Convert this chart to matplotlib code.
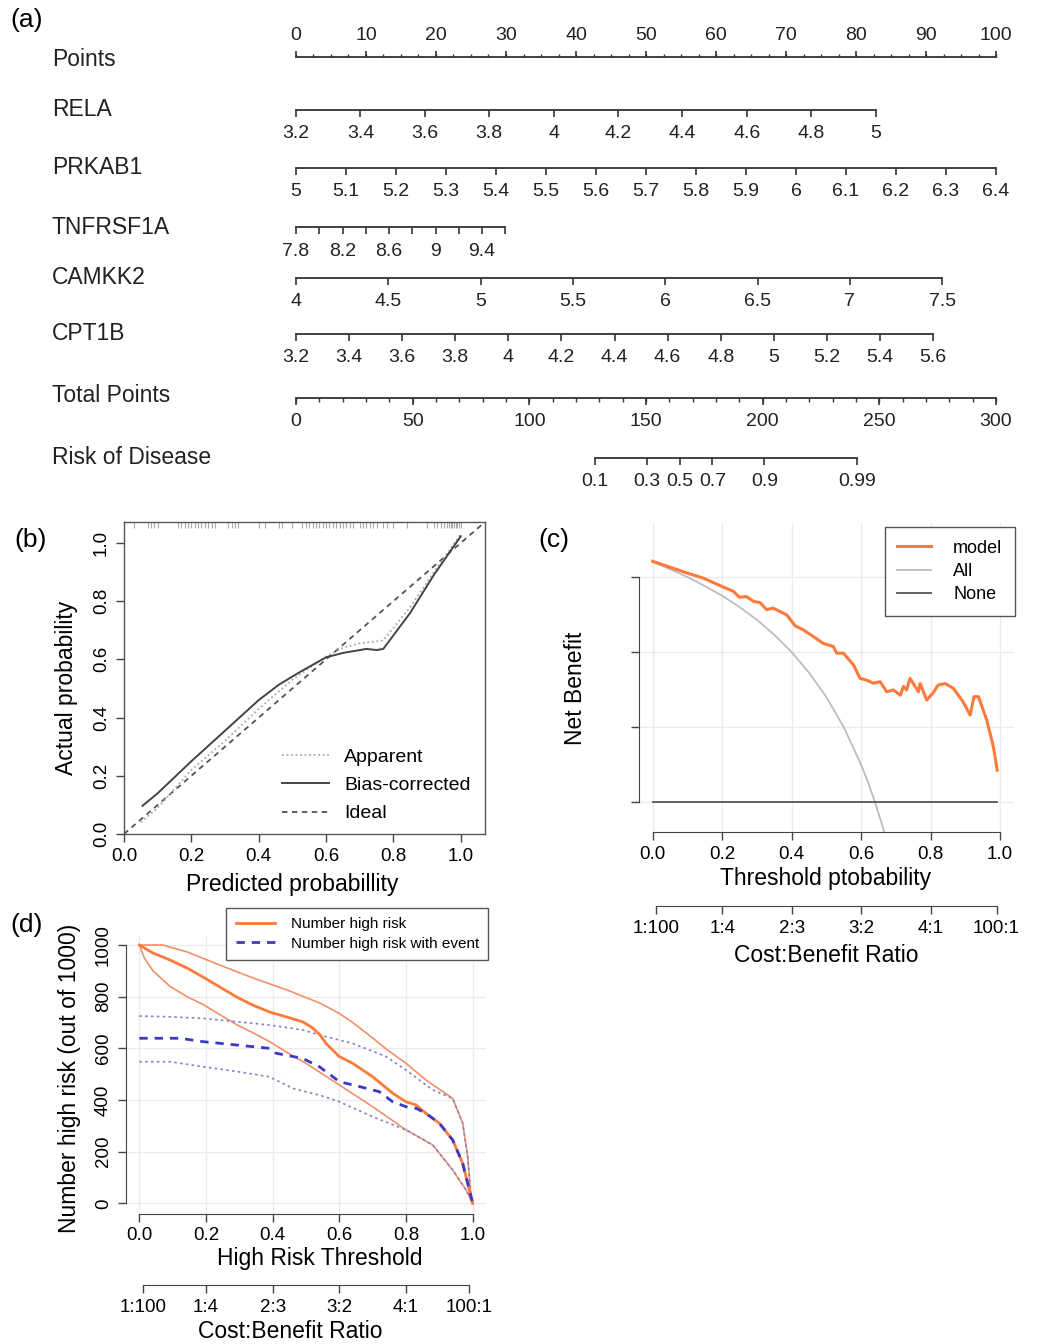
import matplotlib.pyplot as plt
import numpy as np

plt.rcParams['font.family'] = ['Liberation Sans', 'DejaVu Sans']

W, H = 1041, 1344

#%% data
# nomogram (a): tick values of each predictor and the points reached at its max value
points_major = [0, 10, 20, 30, 40, 50, 60, 70, 80, 90, 100]
points_minor = [2.5 * i for i in range(41)]

rela_vals = [3.2, 3.4, 3.6, 3.8, 4.0, 4.2, 4.4, 4.6, 4.8, 5.0]
rela_labels = ['3.2', '3.4', '3.6', '3.8', '4', '4.2', '4.4', '4.6', '4.8', '5']
rela_pmax = 82.8

prkab1_vals = [5.0, 5.1, 5.2, 5.3, 5.4, 5.5, 5.6, 5.7, 5.8, 5.9, 6.0, 6.1, 6.2, 6.3, 6.4]
prkab1_labels = ['5', '5.1', '5.2', '5.3', '5.4', '5.5', '5.6', '5.7', '5.8', '5.9',
                 '6', '6.1', '6.2', '6.3', '6.4']
prkab1_pmax = 100

tnf_vals = [7.8, 8.0, 8.2, 8.4, 8.6, 8.8, 9.0, 9.2, 9.4, 9.6]
tnf_labels = ['7.8', '', '8.2', '', '8.6', '', '9', '', '9.4', '']
tnf_pmax = 29.9

camkk2_vals = [4.0, 4.5, 5.0, 5.5, 6.0, 6.5, 7.0, 7.5]
camkk2_labels = ['4', '4.5', '5', '5.5', '6', '6.5', '7', '7.5']
camkk2_pmax = 92.3

cpt1b_vals = [3.2, 3.4, 3.6, 3.8, 4.0, 4.2, 4.4, 4.6, 4.8, 5.0, 5.2, 5.4, 5.6]
cpt1b_labels = ['3.2', '3.4', '3.6', '3.8', '4', '4.2', '4.4', '4.6', '4.8', '5',
                '5.2', '5.4', '5.6']
cpt1b_pmax = 91.0

total_major = [0, 50, 100, 150, 200, 250, 300]
total_minor = [10 * i for i in range(31)]
total_max = 300

risk_vals = [0.1, 0.3, 0.5, 0.7, 0.9, 0.99]
risk_labels = ['0.1', '0.3', '0.5', '0.7', '0.9', '0.99']
risk_intercept = -9.95
risk_slope = 0.0605

# calibration (b)
app_x = [0.05, 0.1, 0.2, 0.3, 0.4, 0.5, 0.6, 0.65, 0.7, 0.77, 0.85, 0.92, 1.0]
app_y = [0.04, 0.09, 0.22, 0.32, 0.43, 0.53, 0.61, 0.64, 0.655, 0.665, 0.78, 0.9, 1.03]
bc_x = [0.055, 0.1, 0.2, 0.3, 0.4, 0.46, 0.52, 0.6, 0.65, 0.72, 0.75, 0.77, 0.85, 0.92, 1.0]
bc_y = [0.097, 0.14, 0.25, 0.355, 0.46, 0.513, 0.555, 0.607, 0.622, 0.636, 0.632, 0.636,
        0.76, 0.89, 1.023]
rug_x = [0.03, 0.07, 0.08, 0.09, 0.1, 0.16, 0.17, 0.18, 0.19, 0.2, 0.21, 0.22, 0.23, 0.24,
         0.25, 0.26, 0.27, 0.31, 0.32, 0.33, 0.34, 0.4, 0.42, 0.46, 0.47, 0.5, 0.53, 0.54,
         0.55, 0.56, 0.57, 0.58, 0.59, 0.6, 0.61, 0.62, 0.63, 0.64, 0.65, 0.66, 0.67, 0.68,
         0.7, 0.71, 0.72, 0.73, 0.74, 0.75, 0.77, 0.78, 0.8, 0.84, 0.9, 0.92, 0.93, 0.94,
         0.95, 0.96, 0.965, 0.97, 0.975, 0.98, 0.985, 0.99, 0.995, 1.0]

# decision curve (c)
model_x = [0.0, 0.098, 0.146, 0.194, 0.232, 0.25, 0.27, 0.29, 0.309, 0.328, 0.347, 0.386,
           0.41, 0.434, 0.463, 0.491, 0.52, 0.53, 0.549, 0.578, 0.597, 0.616, 0.635, 0.655,
           0.674, 0.693, 0.713, 0.722, 0.731, 0.741, 0.765, 0.77, 0.789, 0.808, 0.822,
           0.842, 0.866, 0.894, 0.914, 0.925, 0.938, 0.962, 0.981, 0.992]
model_nb = [0.642, 0.611, 0.597, 0.577, 0.562, 0.546, 0.548, 0.535, 0.532, 0.513, 0.517,
            0.499, 0.47, 0.459, 0.441, 0.423, 0.415, 0.397, 0.397, 0.366, 0.33, 0.325,
            0.317, 0.321, 0.294, 0.299, 0.285, 0.308, 0.299, 0.33, 0.294, 0.316, 0.272,
            0.292, 0.312, 0.316, 0.303, 0.267, 0.232, 0.281, 0.281, 0.218, 0.147, 0.085]
all_x = [0.0, 0.05, 0.1, 0.15, 0.2, 0.25, 0.3, 0.35, 0.4, 0.45, 0.5, 0.55, 0.6, 0.62,
         0.64, 0.66, 0.67]
all_nb = [0.64, 0.621, 0.6, 0.576, 0.55, 0.52, 0.486, 0.446, 0.4, 0.345, 0.28, 0.2, 0.1,
          0.053, 0.0, -0.059, -0.09]
none_x = [0.0, 0.99]
none_nb = [0.0, 0.0]

cb_ticks = [0.01, 0.2, 0.4, 0.6, 0.8, 0.99]
cb_labels = ['1:100', '1:4', '2:3', '3:2', '4:1', '100:1']

# clinical impact (d)
hr_x = [0.0, 0.041, 0.092, 0.143, 0.191, 0.242, 0.293, 0.341, 0.392, 0.443, 0.491, 0.52,
        0.542, 0.56, 0.6, 0.64, 0.7, 0.76, 0.8, 0.83, 0.86, 0.9, 0.94, 0.97, 0.995, 1.0]
hr_y = [1000, 969, 942, 911, 876, 837, 798, 767, 740, 721, 702, 679, 652, 619, 568, 542,
        490, 426, 393, 381, 348, 310, 245, 155, 26, 0]
hr_hi_x = [0.0, 0.07, 0.142, 0.242, 0.342, 0.443, 0.542, 0.6, 0.64, 0.7, 0.74, 0.8, 0.86,
           0.94, 0.97, 0.985, 0.995, 1.0]
hr_hi_y = [1000, 1000, 974, 922, 872, 826, 775, 735, 700, 640, 598, 542, 477, 406, 310,
           181, 26, 0]
hr_lo_x = [0.0, 0.015, 0.041, 0.092, 0.143, 0.191, 0.242, 0.293, 0.341, 0.392, 0.443, 0.5,
           0.6, 0.7, 0.8, 0.88, 0.94, 0.98, 1.0]
hr_lo_y = [1000, 950, 900, 840, 800, 770, 730, 691, 660, 625, 584, 542, 458, 374, 284,
           226, 129, 52, 0]
ev_x = [0.0, 0.122, 0.19, 0.29, 0.39, 0.41, 0.49, 0.54, 0.6, 0.66, 0.72, 0.76, 0.8, 0.83,
        0.86, 0.9, 0.94, 0.97, 0.995, 1.0]
ev_y = [639, 639, 626, 613, 600, 581, 561, 529, 471, 452, 432, 393, 374, 368, 348, 310,
        245, 155, 26, 0]
ev_hi_x = [0.0, 0.092, 0.191, 0.293, 0.392, 0.491, 0.542, 0.64, 0.74, 0.8, 0.88, 0.94,
           0.97, 0.985, 0.995, 1.0]
ev_hi_y = [725, 722, 716, 703, 690, 671, 651, 619, 568, 516, 439, 406, 310, 181, 26, 0]
ev_lo_x = [0.0, 0.092, 0.19, 0.293, 0.39, 0.46, 0.54, 0.6, 0.7, 0.8, 0.88, 0.94, 0.98, 1.0]
ev_lo_y = [548, 548, 529, 510, 490, 445, 419, 393, 335, 284, 226, 129, 52, 0]


def rect(x0, y0, x1, y1):
    return [x0 / W, 1 - y1 / H, (x1 - x0) / W, (y1 - y0) / H]


fig = plt.figure(figsize=(W / 100, H / 100), dpi=100)


def ftext(x, y, s, **kw):
    fig.text(x / W, 1 - y / H, s, **kw)


dark = '#333333'
orange = '#FF7A3A'

#%% (a) nomogram
axa = fig.add_axes([0, 1 - 500 / H, 1, 500 / H])
axa.set_xlim(-296 / 7, (W - 296) / 7)
axa.set_ylim(500, 0)
axa.axis('off')
lab_x = (52 - 296) / 7


def nomo_row(y, name, vals, labels, pmax):
    vmin, vmax = vals[0], vals[-1]
    pts = [(v - vmin) / (vmax - vmin) * pmax for v in vals]
    axa.plot([pts[0], pts[-1]], [y, y], color=dark, lw=1.3)
    axa.vlines(pts, y, y + 7, color=dark, lw=1.2)
    for p, l in zip(pts, labels):
        axa.text(p, y + 24, l, ha='center', va='center', fontsize=14, color='#222')
    axa.text(lab_x, y, name, ha='left', va='center', fontsize=16.5, color='#222')


# Points
axa.plot([0, 100], [57, 57], color=dark, lw=1.3)
axa.vlines(points_minor, 57, 53.5, color=dark, lw=1)
axa.vlines(points_major, 57, 50.5, color=dark, lw=1.2)
for p in points_major:
    axa.text(p, 36, str(p), ha='center', va='center', fontsize=14, color='#222')
axa.text(lab_x, 60, 'Points', ha='left', va='center', fontsize=16.5, color='#222')

nomo_row(110, 'RELA', rela_vals, rela_labels, rela_pmax)
nomo_row(168, 'PRKAB1', prkab1_vals, prkab1_labels, prkab1_pmax)
nomo_row(227, 'TNFRSF1A', tnf_vals, tnf_labels, tnf_pmax)
nomo_row(278, 'CAMKK2', camkk2_vals, camkk2_labels, camkk2_pmax)
nomo_row(334, 'CPT1B', cpt1b_vals, cpt1b_labels, cpt1b_pmax)

# Total points
tp_scale = 100 / total_max
axa.plot([0, 100], [398, 398], color=dark, lw=1.3)
axa.vlines([t * tp_scale for t in total_minor], 398, 402, color=dark, lw=1)
axa.vlines([t * tp_scale for t in total_major], 398, 405, color=dark, lw=1.2)
for t in total_major:
    axa.text(t * tp_scale, 421, str(t), ha='center', va='center', fontsize=14, color='#222')
axa.text(lab_x, 396, 'Total Points', ha='left', va='center', fontsize=16.5, color='#222')

# Risk of disease
risk_tp = [(np.log(p / (1 - p)) - risk_intercept) / risk_slope for p in risk_vals]
risk_pts = [t * tp_scale for t in risk_tp]
axa.plot([risk_pts[0], risk_pts[-1]], [458, 458], color=dark, lw=1.3)
axa.vlines(risk_pts, 458, 465, color=dark, lw=1.2)
for p, l in zip(risk_pts, risk_labels):
    axa.text(p, 482, l, ha='center', va='center', fontsize=14, color='#222')
axa.text(lab_x, 458, 'Risk of Disease', ha='left', va='center', fontsize=16.5, color='#222')

ftext(10, 20, '(a)', fontsize=19, va='center', ha='left')

#%% (b) calibration
axb = fig.add_axes(rect(124, 522, 485, 834))
axb.set_xlim(0, 1.072)
axb.set_ylim(0, 1.072)
axb.plot([0, 1.1], [0, 1.1], color='#555555', lw=1.3, ls=(0, (3, 2.5)), label='Ideal')
axb.plot(app_x, app_y, color='#AAAAAA', lw=1.3, ls=(0, (1, 1.5)), label='Apparent')
axb.plot(bc_x, bc_y, color='#444444', lw=1.4, label='Bias-corrected')
axb.vlines(rug_x, 1.053, 1.072, color='#AAAAAA', lw=0.8)
h, l = axb.get_legend_handles_labels()
axb.legend([h[1], h[2], h[0]], [l[1], l[2], l[0]], loc='lower right', frameon=False,
           fontsize=14, handlelength=2.4, labelspacing=0.55, borderaxespad=0.6,
           bbox_to_anchor=(1.014, -0.025))
ticks01 = [0, 0.2, 0.4, 0.6, 0.8, 1.0]
t01_lab = ['0.0', '0.2', '0.4', '0.6', '0.8', '1.0']
axb.set_xticks(ticks01)
axb.set_xticklabels(t01_lab, fontsize=13.5)
axb.set_yticks(ticks01)
axb.set_yticklabels(t01_lab, fontsize=13.5, rotation=90, va='center')
axb.tick_params(direction='out', length=6, width=1, color='#444', pad=4)
for s in axb.spines.values():
    s.set_color('#555555')
    s.set_linewidth(1)
ftext(292, 884, 'Predicted probabillity', fontsize=16.5, ha='center', va='center')
ftext(67, 688, 'Actual probability', fontsize=16.5, ha='center', va='center', rotation=90)
ftext(14, 540, '(b)', fontsize=19, va='center', ha='left')

#%% (c) decision curve
axc = fig.add_axes(rect(638.8, 523, 1013.9, 831.7))
axc.set_xlim(-0.04, 1.04)
axc.set_ylim(-0.079, 0.744)
axc.grid(color='#EBEBEB', lw=1)
axc.set_axisbelow(True)
axc.plot(all_x, all_nb, color='#BDBDBD', lw=1.3, label='All')
axc.plot(none_x, none_nb, color='#555555', lw=1.3, label='None')
axc.plot(model_x, model_nb, color=orange, lw=2.2, label='model')
for s in ['top', 'right']:
    axc.spines[s].set_visible(False)
axc.spines['left'].set_bounds(0, 0.6)
axc.spines['bottom'].set_bounds(0, 1)
for s in ['left', 'bottom']:
    axc.spines[s].set_color('#444444')
axc.set_yticks([0, 0.2, 0.4, 0.6])
axc.set_yticklabels([])
axc.set_xticks(ticks01)
axc.set_xticklabels(t01_lab, fontsize=13.5)
axc.tick_params(direction='out', length=6, width=1, color='#444', pad=4)
h, l = axc.get_legend_handles_labels()
leg = axc.legend([h[2], h[0], h[1]], [l[2], l[0], l[1]], loc='upper right',
                 bbox_to_anchor=(1015 / W, 1 - 527 / H), bbox_transform=fig.transFigure,
                 borderaxespad=0, fontsize=13, fancybox=False, edgecolor='#555555',
                 framealpha=1, handlelength=1.9, labelspacing=0.35, borderpad=0.7,
                 handletextpad=1.2)
leg.get_frame().set_linewidth(1)

axc2 = fig.add_axes(rect(638.8, 905, 1013.9, 906))
axc2.set_xlim(-0.04, 1.04)
axc2.patch.set_visible(False)
for s in ['top', 'right', 'left']:
    axc2.spines[s].set_visible(False)
axc2.spines['bottom'].set_bounds(cb_ticks[0], cb_ticks[-1])
axc2.spines['bottom'].set_color('#444444')
axc2.set_yticks([])
axc2.set_xticks(cb_ticks)
axc2.set_xticklabels(cb_labels, fontsize=13.5)
axc2.tick_params(direction='out', length=6, width=1, color='#444', pad=4)

ftext(826, 878, 'Threshold ptobability', fontsize=16.5, ha='center', va='center')
ftext(826, 955, 'Cost:Benefit Ratio', fontsize=16.5, ha='center', va='center')
ftext(575, 688, 'Net Benefit', fontsize=16.5, ha='center', va='center', rotation=90)
ftext(538, 540, '(c)', fontsize=19, va='center', ha='left')

#%% (d) clinical impact
axd = fig.add_axes(rect(126, 934.7, 486, 1213.6))
axd.set_xlim(-0.04, 1.04)
axd.set_ylim(-40, 1040)
axd.grid(color='#EBEBEB', lw=1)
axd.set_axisbelow(True)
thin_or = '#F29068'
dot_bl = '#7F7FD0'
axd.plot(hr_hi_x, hr_hi_y, color=thin_or, lw=1.2)
axd.plot(hr_lo_x, hr_lo_y, color=thin_or, lw=1.2)
axd.plot(ev_hi_x, ev_hi_y, color=dot_bl, lw=1.2, ls=(0, (1.5, 2)))
axd.plot(ev_lo_x, ev_lo_y, color=dot_bl, lw=1.2, ls=(0, (1.5, 2)))
axd.plot(hr_x, hr_y, color=orange, lw=2, label='Number high risk')
axd.plot(ev_x, ev_y, color='#3A3AC4', lw=2, ls=(0, (3, 2.5)),
         label='Number high risk with event')
for s in ['top', 'right']:
    axd.spines[s].set_visible(False)
axd.spines['left'].set_bounds(0, 1000)
axd.spines['bottom'].set_bounds(0, 1)
for s in ['left', 'bottom']:
    axd.spines[s].set_color('#444444')
axd.set_yticks([0, 200, 400, 600, 800, 1000])
axd.set_yticklabels(['0', '200', '400', '600', '800', '1000'], fontsize=13.5,
                    rotation=90, va='center')
axd.set_xticks(ticks01)
axd.set_xticklabels(t01_lab, fontsize=13.5)
axd.tick_params(direction='out', length=6, width=1, color='#444', pad=4)
leg = axd.legend(loc='upper right', bbox_to_anchor=(488 / W, 1 - 908 / H),
                 bbox_transform=fig.transFigure, borderaxespad=0, fontsize=11,
                 fancybox=False, edgecolor='#555555', framealpha=1, handlelength=2.6,
                 labelspacing=0.35, borderpad=0.6, handletextpad=1.0)
leg.get_frame().set_linewidth(1)

axd2 = fig.add_axes(rect(126, 1284, 486, 1285))
axd2.set_xlim(-0.04, 1.04)
axd2.patch.set_visible(False)
for s in ['top', 'right', 'left']:
    axd2.spines[s].set_visible(False)
axd2.spines['bottom'].set_bounds(cb_ticks[0], cb_ticks[-1])
axd2.spines['bottom'].set_color('#444444')
axd2.set_yticks([])
axd2.set_xticks(cb_ticks)
axd2.set_xticklabels(cb_labels, fontsize=13.5)
axd2.tick_params(direction='out', length=6, width=1, color='#444', pad=4)

ftext(320, 1258, 'High Risk Threshold', fontsize=16.5, ha='center', va='center')
ftext(290, 1331, 'Cost:Benefit Ratio', fontsize=16.5, ha='center', va='center')
ftext(70, 1078, 'Number high risk (out of 1000)', fontsize=16.5, ha='center',
      va='center', rotation=90)
ftext(10, 925, '(d)', fontsize=19, va='center', ha='left')

fig.savefig('out.png', dpi=100, facecolor='white')
